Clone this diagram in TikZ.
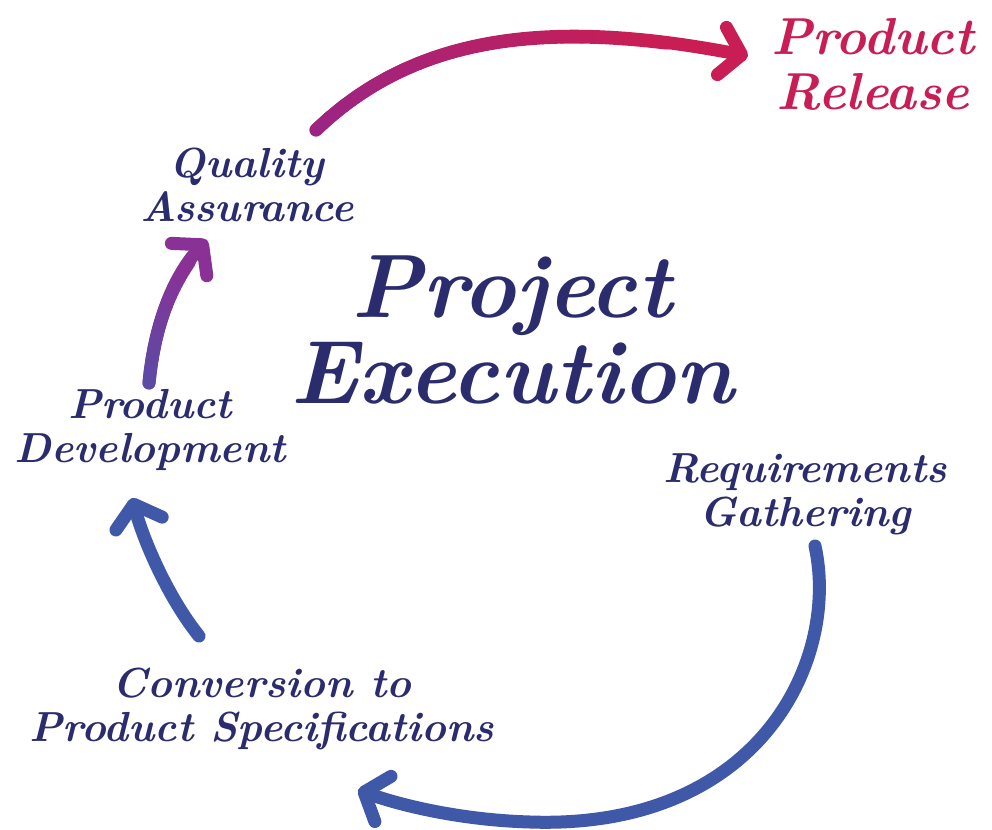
\documentclass[tikz,border=0pt]{standalone}
\usetikzlibrary{arrows.meta}
\definecolor{txt}{HTML}{2B2C6E}
\definecolor{pinkc}{HTML}{C81E55}
\definecolor{magc}{HTML}{9B2583}
\definecolor{purc}{HTML}{8A3196}
\definecolor{purb}{HTML}{5B4BA5}
\definecolor{bluec}{HTML}{3F58A8}
\tikzset{
  lbl/.style={text=txt, font=\fontsize{42}{44}\selectfont\bfseries\itshape, align=center, inner sep=0pt},
  rel/.style={text=pinkc, font=\fontsize{52}{55}\selectfont\bfseries\itshape, align=center, inner sep=0pt},
  big/.style={text=txt, font=\fontsize{90}{86}\selectfont\bfseries\itshape, align=center, inner sep=0pt},
  arr/.style={line width=13pt, line cap=round, -{Straight Barb[round, length=20pt, width=48pt]}},
}
\begin{document}
\begin{tikzpicture}[x=1pt,y=-1pt]
\useasboundingbox (0,0) rectangle (992,829);
\fill[white] (0,0) rectangle (992,829);

\node[big] (pe) at (512,330) {Project\\Execution};
\node[rel] (pr) at (873,64) {Product\\Release};
\node[lbl] (qa) at (247,185) {Quality\\Assurance};
\node[lbl] (pd) at (150,430) {Product\\Development};
\node[lbl] (rg) at (805,494) {Requirements\\Gathering};
\node[lbl] (cs) at (262,709) {Conversion to\\Product Specifications};

\coordinate (a1s) at (316,130);
\coordinate (a1e) at (748,56);
\coordinate (a2s) at (149,383);
\coordinate (a2e) at (207,240);
\coordinate (a3s) at (199,636);
\coordinate (a3e) at (132,498);
\coordinate (a4s) at (815,546);
\coordinate (a4e) at (358,790);

\draw[arr, pinkc] (a1s) .. controls (420,30) and (560,20) .. (a1e);
% gradient overlay on the pink arrow shaft
\foreach \i in {0,...,19}{
  \pgfmathsetmacro{\ta}{0.85*\i/20}
  \pgfmathsetmacro{\tb}{0.85*(\i+1)/20}
  \pgfmathsetmacro{\mix}{100*\i/19}
  \pgfmathsetmacro{\xa}{(1-\ta)^3*316+3*(1-\ta)^2*\ta*420+3*(1-\ta)*\ta^2*560+\ta^3*748}
  \pgfmathsetmacro{\ya}{(1-\ta)^3*130+3*(1-\ta)^2*\ta*30+3*(1-\ta)*\ta^2*20+\ta^3*56}
  \pgfmathsetmacro{\xb}{(1-\tb)^3*316+3*(1-\tb)^2*\tb*420+3*(1-\tb)*\tb^2*560+\tb^3*748}
  \pgfmathsetmacro{\yb}{(1-\tb)^3*130+3*(1-\tb)^2*\tb*30+3*(1-\tb)*\tb^2*20+\tb^3*56}
  \draw[line width=13pt, line cap=round, color=pinkc!\mix!magc] (\xa,\ya) -- (\xb,\yb);
}

\draw[arr, purc] (a2s) .. controls (155,320) and (175,275) .. (a2e);
% gradient overlay on the purple arrow shaft
\foreach \i in {0,...,11}{
  \pgfmathsetmacro{\ta}{0.8*\i/12}
  \pgfmathsetmacro{\tb}{0.8*(\i+1)/12}
  \pgfmathsetmacro{\mix}{100*\i/11}
  \pgfmathsetmacro{\xa}{(1-\ta)^3*149+3*(1-\ta)^2*\ta*155+3*(1-\ta)*\ta^2*175+\ta^3*207}
  \pgfmathsetmacro{\ya}{(1-\ta)^3*383+3*(1-\ta)^2*\ta*320+3*(1-\ta)*\ta^2*275+\ta^3*240}
  \pgfmathsetmacro{\xb}{(1-\tb)^3*149+3*(1-\tb)^2*\tb*155+3*(1-\tb)*\tb^2*175+\tb^3*207}
  \pgfmathsetmacro{\yb}{(1-\tb)^3*383+3*(1-\tb)^2*\tb*320+3*(1-\tb)*\tb^2*275+\tb^3*240}
  \draw[line width=13pt, line cap=round, color=purc!\mix!purb] (\xa,\ya) -- (\xb,\yb);
}

\draw[arr, bluec] (a3s) .. controls (170,600) and (145,545) .. (a3e);
\draw[arr, bluec] (a4s) .. controls (840,660) and (760,830) .. (530,822)
  .. controls (460,820) and (400,805) .. (a4e);
\end{tikzpicture}
\end{document}
